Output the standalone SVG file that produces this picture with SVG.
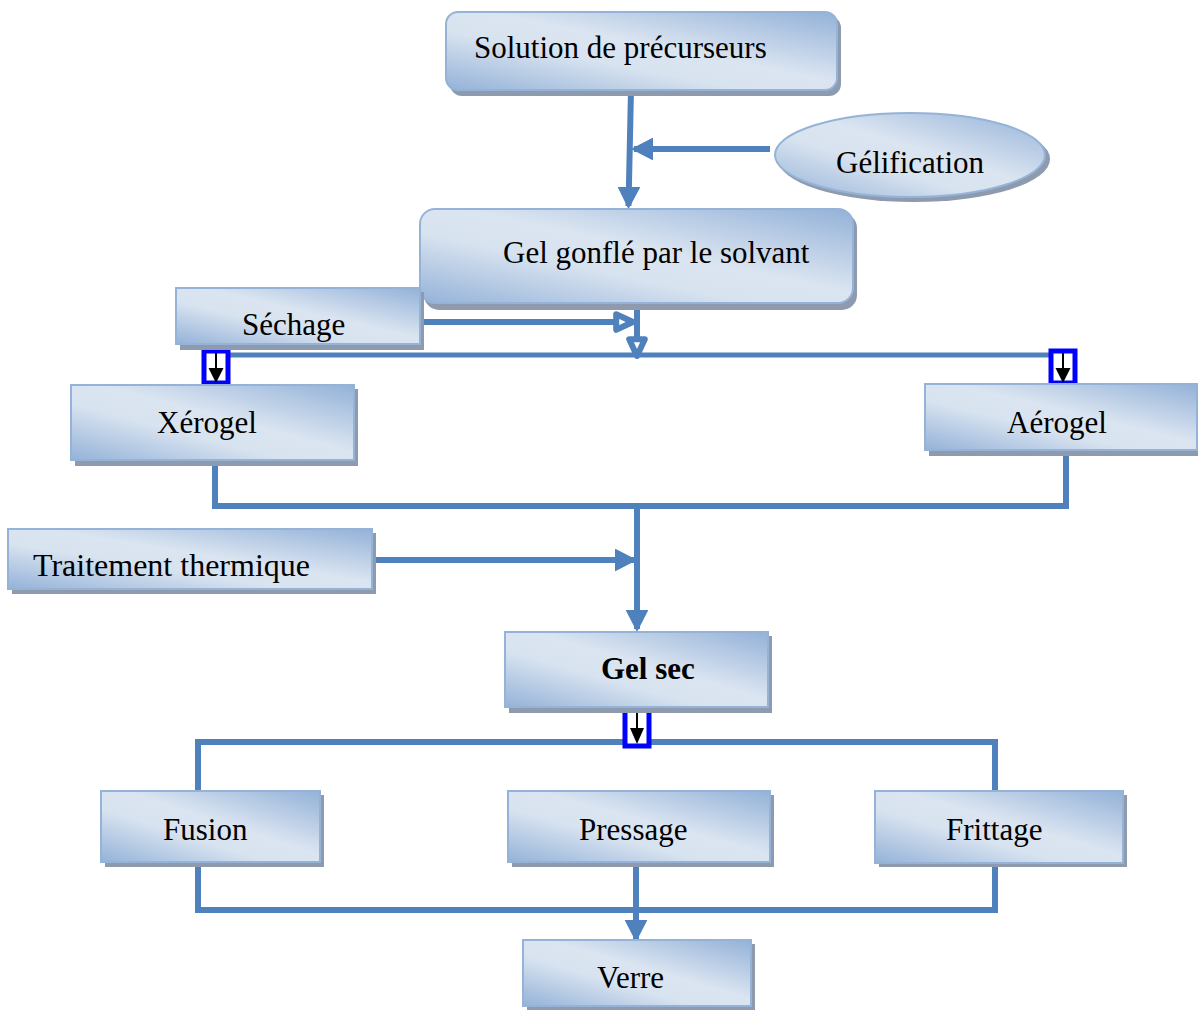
<svg xmlns="http://www.w3.org/2000/svg" width="1198" height="1010" viewBox="0 0 1198 1010">
<defs>
<linearGradient id="g" x1="1" y1="0" x2="0" y2="1">
<stop offset="0" stop-color="#93b1d8"/>
<stop offset="0.45" stop-color="#dbe5f1"/>
<stop offset="0.62" stop-color="#d8e3f0"/>
<stop offset="1" stop-color="#94b2d8"/>
</linearGradient>
<marker id="ah" markerWidth="4" markerHeight="4" refX="3.2" refY="2" orient="auto" markerUnits="strokeWidth">
<path d="M0.1,0.3 L3.4,2 L0.1,3.7 Z" fill="#4f81bd" stroke="#4f81bd" stroke-width="0.3" stroke-linejoin="round"/>
</marker>
<marker id="oh" markerWidth="5" markerHeight="5" refX="3.6" refY="2.5" orient="auto" markerUnits="strokeWidth">
<path d="M0.8,1.2 L3.6,2.5 L0.8,3.8 Z" fill="#ffffff" stroke="#4f81bd" stroke-width="1" stroke-linejoin="round"/>
</marker>
</defs>
<style>
.box{fill:url(#g);stroke:#95b3d7;stroke-width:2}
.sh{fill:#8e9aae}
.t{font-family:"Liberation Serif","Times New Roman",serif;font-size:31px;fill:#000}
.b{font-weight:bold}
.c{fill:none;stroke:#4f81bd;stroke-width:6}
.cs{fill:none;stroke:#4f81bd;stroke-width:5}
.bb{fill:#fff;stroke:#0000ff;stroke-width:5}
.ba{stroke:#000;stroke-width:2}
</style>
<rect width="1198" height="1010" fill="#fff"/>

<g id="connectors">
<line class="c" x1="631" y1="90" x2="628.5" y2="206" marker-end="url(#ah)"/>
<line class="c" x1="770" y1="149" x2="634" y2="149" marker-end="url(#ah)"/>
<line class="c" x1="423" y1="322" x2="633" y2="322" marker-end="url(#oh)"/>
<line class="c" x1="637" y1="305" x2="637" y2="356" marker-end="url(#oh)"/>
<line class="cs" x1="228" y1="355" x2="1052" y2="355"/>
<polyline class="c" points="215,460 215,506 1066,506 1066,450"/>
<line class="c" x1="637" y1="506" x2="637" y2="629" marker-end="url(#ah)"/>
<line class="c" x1="373" y1="560" x2="634" y2="560" marker-end="url(#ah)"/>
<polyline class="c" points="198,791 198,742 995,742 995,791"/>
<polyline class="c" points="198,863 198,910 995,910 995,863"/>
<line class="c" x1="636" y1="862" x2="636" y2="939" marker-end="url(#ah)"/>
</g>

<g id="arrow-box-left">
<rect class="bb" x="204" y="351" width="24" height="32"/>
<line class="ba" x1="216" y1="353" x2="216" y2="370"/>
<path d="M208.5,368 L223.5,368 L216,383 Z" fill="#000"/>
</g>
<g id="arrow-box-right">
<rect class="bb" x="1051" y="351" width="24" height="32"/>
<line class="ba" x1="1063" y1="353" x2="1063" y2="370"/>
<path d="M1055.5,368 L1070.5,368 L1063,383 Z" fill="#000"/>
</g>
<g id="arrow-box-gelsec">
<rect class="bb" x="625" y="709" width="24" height="37"/>
<line class="ba" x1="637" y1="711" x2="637" y2="730"/>
<path d="M630,728 L644,728 L637,744 Z" fill="#000"/>
</g>

<g id="n-solution">
<rect class="sh" x="450" y="16" width="391" height="80" rx="12"/>
<rect class="box" x="446" y="12" width="391" height="78" rx="12"/>
<text class="t" x="474" y="58">Solution de précurseurs</text>
</g>

<g id="n-gelification">
<ellipse class="sh" cx="914" cy="159" rx="136" ry="43"/>
<ellipse class="box" cx="910" cy="155" rx="135" ry="42"/>
<text class="t" x="836" y="173">Gélification</text>
</g>

<g id="n-gel-gonfle">
<rect class="sh" x="424" y="213" width="433" height="97" rx="15"/>
<rect class="box" x="420" y="209" width="433" height="94" rx="15"/>
<text class="t" x="503" y="263">Gel gonflé par le solvant</text>
</g>

<g id="n-sechage">
<rect class="sh" x="180" y="292" width="244" height="58"/>
<rect class="box" x="176" y="288" width="244" height="56"/>
<text class="t" x="242" y="335">Séchage</text>
</g>

<g id="n-xerogel">
<rect class="sh" x="75" y="389" width="283" height="77"/>
<rect class="box" x="71" y="385" width="283" height="75"/>
<text class="t" x="157" y="433">Xérogel</text>
</g>

<g id="n-aerogel">
<rect class="sh" x="929" y="388" width="273" height="68"/>
<rect class="box" x="925" y="384" width="272" height="66"/>
<text class="t" x="1007" y="433">Aérogel</text>
</g>

<g id="n-traitement">
<rect class="sh" x="12" y="533" width="364" height="61"/>
<rect class="box" x="8" y="529" width="364" height="60"/>
<text class="t" x="33" y="576" style="font-size:32px">Traitement thermique</text>
</g>

<g id="n-gel-sec">
<rect class="sh" x="509" y="636" width="263" height="77"/>
<rect class="box" x="505" y="632" width="263" height="75"/>
<text class="t b" x="601" y="679">Gel sec</text>
</g>

<g id="n-fusion">
<rect class="sh" x="105" y="795" width="219" height="72"/>
<rect class="box" x="101" y="791" width="219" height="71"/>
<text class="t" x="163" y="840">Fusion</text>
</g>

<g id="n-pressage">
<rect class="sh" x="512" y="795" width="262" height="72"/>
<rect class="box" x="508" y="791" width="262" height="71"/>
<text class="t" x="579" y="840">Pressage</text>
</g>

<g id="n-frittage">
<rect class="sh" x="879" y="795" width="248" height="72"/>
<rect class="box" x="875" y="791" width="248" height="72"/>
<text class="t" x="946" y="840">Frittage</text>
</g>

<g id="n-verre">
<rect class="sh" x="527" y="944" width="228" height="68"/>
<rect class="box" x="523" y="940" width="228" height="66"/>
<text class="t" x="597" y="988">Verre</text>
</g>
</svg>
